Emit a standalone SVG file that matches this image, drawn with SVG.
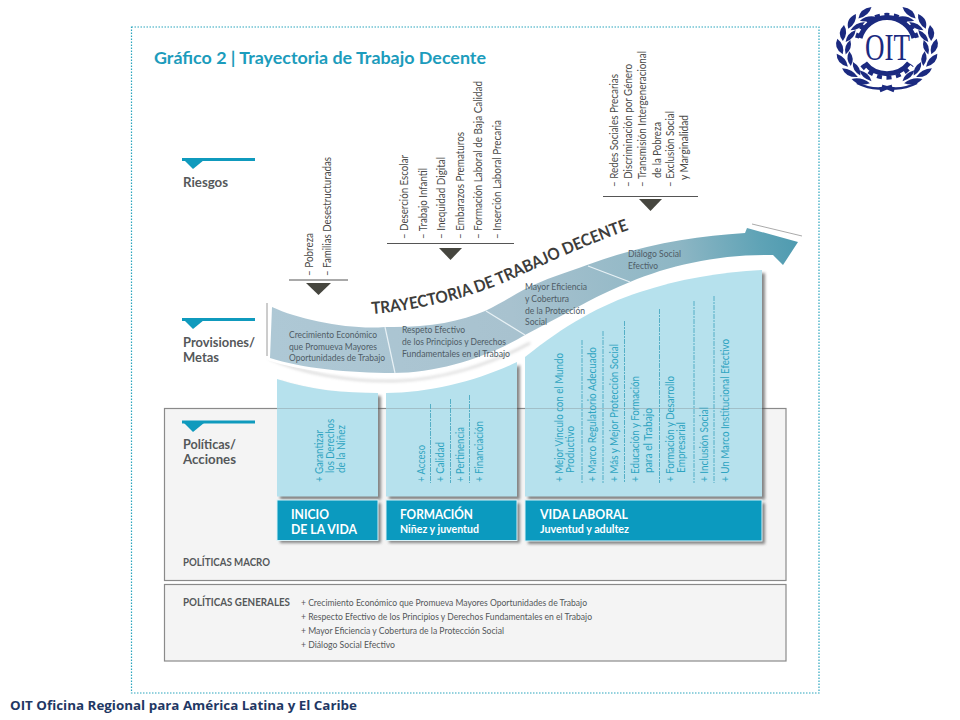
<svg xmlns="http://www.w3.org/2000/svg" width="960" height="720" viewBox="0 0 960 720">
<style>
text{font-family:Lato,"Open Sans","Liberation Sans",sans-serif}
.risk{font-size:12px;fill:#4a4a48}
.pol{font-size:12px;fill:#2ea4c1}
.band{font-size:9.500px;fill:#4f5c66}
.head{font-size:12.500px;font-weight:700;fill:#55585a}
.gen{font-size:10px;fill:#55585a}
.macro{font-size:10.500px;font-weight:700;fill:#55585a}
.big{font-size:13px;font-weight:700;fill:#fff}
.sub{font-size:10.500px;font-weight:700;fill:#fff}
.box{fill:#f4f4f4;stroke:#8a8a8a;stroke-width:1.2}
.panel{fill:#b6e1ed}
.dark{fill:#0b9abf;stroke:#d8f2f8;stroke-width:1}
.sh{fill:#555;opacity:.7;filter:url(#blur)}
.div{stroke:#4aa9c2;stroke-width:.9;stroke-dasharray:5 1 2 1;fill:none}
.bar{stroke:#0f9abd;stroke-width:3}
.tri{fill:#0f9abd}
.rule{stroke:#555;stroke-width:1}
.dt{fill:#46463f}
.sep{stroke:#e8f1f5;stroke-width:1.2;fill:none}
</style>
<defs>
<filter id="blur" x="-20%" y="-20%" width="140%" height="140%"><feGaussianBlur stdDeviation="1.5"/></filter>
<linearGradient id="rib" gradientUnits="userSpaceOnUse" x1="272" y1="330" x2="798" y2="245">
<stop offset="0" stop-color="#aec8d5"/><stop offset=".45" stop-color="#a8c2cf"/><stop offset=".78" stop-color="#8db6c4"/><stop offset=".93" stop-color="#5fa3b6"/><stop offset="1" stop-color="#4f9bb0"/>
</linearGradient>
<path id="arc" d="M372,314 C420,310 470,298 510,280 C550,262 590,243 634,228"/>
<g id="leaf" fill="#1b2a80"><path d="M843,57 Q833,50 837,39 Q845,46 843,57Z"/><path d="M846,57 Q853,50 850,40 Q843,47 846,57Z"/></g>
<g id="wreath" transform="translate(0,7.200) scale(1,.85)">
<use href="#leaf" transform="rotate(62 887 48)"/><use href="#leaf" transform="rotate(42 887 48)"/><use href="#leaf" transform="rotate(22 887 48)"/><use href="#leaf" transform="rotate(2 887 48)"/><use href="#leaf" transform="rotate(-18 887 48)"/><use href="#leaf" transform="rotate(-38 887 48)"/><use href="#leaf" transform="rotate(-56 887 48)"/>
</g>
<path id="p1" d="M277,379 C310,390 345,393 378,393 V496.500 H277Z"/>
<path id="p2" d="M386,393 C430,393 480,380 517,362 V496.500 H386Z"/>
<path id="p3" d="M525,357 C565,325 600,305 640,292 C680,279 720,272 762,270 V496.500 H525Z"/>
</defs>
<rect width="960" height="720" fill="#fff"/>
<rect x="131.500" y="27" width="687.500" height="666" fill="none" stroke="#2ba5bd" stroke-width="1.2" stroke-dasharray="1.500 1.500"/>
<g id="title"><text x="154" y="64" font-size="17" font-weight="700" fill="#1c9cbc" textLength="332" lengthAdjust="spacingAndGlyphs">Gráfico 2 | Trayectoria de Trabajo Decente</text></g>

<g id="box-macro"><rect class="box" x="164.500" y="408.500" width="621.500" height="172"/><text class="macro" x="183" y="566" textLength="87" lengthAdjust="spacingAndGlyphs">POLÍTICAS MACRO</text></g>
<g id="box-generales"><rect class="box" x="164.500" y="584.500" width="621.500" height="76.500"/>
<text class="macro" x="183" y="606" textLength="107" lengthAdjust="spacingAndGlyphs">POLÍTICAS GENERALES</text>
<text class="gen" x="301" y="606" textLength="286" lengthAdjust="spacingAndGlyphs">+ Crecimiento Económico que Promueva Mayores Oportunidades de Trabajo</text>
<text class="gen" x="301" y="620" textLength="291" lengthAdjust="spacingAndGlyphs">+ Respecto Efectivo de los Principios y Derechos Fundamentales en el Trabajo</text>
<text class="gen" x="301" y="634" textLength="203" lengthAdjust="spacingAndGlyphs">+ Mayor Eficiencia y Cobertura de la Protección Social</text>
<text class="gen" x="301" y="648" textLength="94" lengthAdjust="spacingAndGlyphs">+ Diálogo Social Efectivo</text></g>

<g id="legend-riesgos"><line class="bar" x1="182" y1="159.500" x2="255" y2="159.500"/><path class="tri" d="M184,160 H204 L193,169Z"/><text class="head" x="183" y="187" textLength="45" lengthAdjust="spacingAndGlyphs">Riesgos</text></g>
<g id="legend-provisiones"><line class="bar" x1="182" y1="319.500" x2="255" y2="319.500"/><path class="tri" d="M184,320 H204 L193,329Z"/><text class="head" x="183" y="347" textLength="72" lengthAdjust="spacingAndGlyphs">Provisiones/</text><text class="head" x="183" y="362" textLength="36" lengthAdjust="spacingAndGlyphs">Metas</text></g>
<g id="legend-politicas"><line class="bar" x1="182" y1="422" x2="255" y2="422"/><path class="tri" d="M184,423 H204 L193,432Z"/><text class="head" x="183" y="449" textLength="53" lengthAdjust="spacingAndGlyphs">Políticas/</text><text class="head" x="183" y="464" textLength="53" lengthAdjust="spacingAndGlyphs">Acciones</text></g>

<g id="riesgos-1">
<line class="rule" x1="289" y1="280" x2="348" y2="280"/><path class="dt" d="M306,283 H331 L318.500,295Z"/>
<text class="risk" transform="translate(313,276) rotate(-90)" textLength="43" lengthAdjust="spacingAndGlyphs">– Pobreza</text>
<text class="risk" transform="translate(331,276) rotate(-90)" textLength="119" lengthAdjust="spacingAndGlyphs">– Familias Desestructuradas</text>
</g>
<g id="riesgos-2">
<line class="rule" x1="387" y1="243.500" x2="514" y2="243.500"/><path class="dt" d="M439,248 H462 L450.500,260Z"/>
<text class="risk" transform="translate(408,239) rotate(-90)" textLength="84" lengthAdjust="spacingAndGlyphs">– Deserción Escolar</text>
<text class="risk" transform="translate(427,239) rotate(-90)" textLength="71" lengthAdjust="spacingAndGlyphs">– Trabajo Infantil</text>
<text class="risk" transform="translate(445,239) rotate(-90)" textLength="82" lengthAdjust="spacingAndGlyphs">– Inequidad Digital</text>
<text class="risk" transform="translate(464,239) rotate(-90)" textLength="107" lengthAdjust="spacingAndGlyphs">– Embarazos Prematuros</text>
<text class="risk" transform="translate(482,239) rotate(-90)" textLength="158" lengthAdjust="spacingAndGlyphs">– Formación Laboral de Baja Calidad</text>
<text class="risk" transform="translate(501,239) rotate(-90)" textLength="119" lengthAdjust="spacingAndGlyphs">– Inserción Laboral Precaria</text>
</g>
<g id="riesgos-3">
<line class="rule" x1="603" y1="196.500" x2="698" y2="196.500"/><path class="dt" d="M639,199 H662 L650.500,211Z"/>
<text class="risk" transform="translate(618,187) rotate(-90)" textLength="113" lengthAdjust="spacingAndGlyphs">– Redes Sociales Precarias</text>
<text class="risk" transform="translate(632,187) rotate(-90)" textLength="123" lengthAdjust="spacingAndGlyphs">– Discriminación por Género</text>
<text class="risk" transform="translate(646,187) rotate(-90)" textLength="136" lengthAdjust="spacingAndGlyphs">– Transmisión Intergeneracional</text>
<text class="risk" transform="translate(661,178) rotate(-90)" textLength="56" lengthAdjust="spacingAndGlyphs">de la Pobreza</text>
<text class="risk" transform="translate(674,187) rotate(-90)" textLength="76" lengthAdjust="spacingAndGlyphs">– Exclusión Social</text>
<text class="risk" transform="translate(688,180) rotate(-90)" textLength="65" lengthAdjust="spacingAndGlyphs">y Marginalidad</text>
</g>

<g id="etapa-inicio">
<use href="#p1" class="sh" transform="translate(3,3)"/><rect class="sh" x="280" y="503" width="101" height="40"/>
<use href="#p1" class="panel"/>
<line x1="277" y1="408.500" x2="378" y2="408.500" stroke="#8a9aa0" stroke-width=".8" opacity=".6"/>
<rect class="dark" x="277" y="500" width="101" height="40.500"/>
<text class="pol" transform="translate(323,482) rotate(-90)" textLength="52" lengthAdjust="spacingAndGlyphs">+ Garantizar</text>
<text class="pol" transform="translate(334,473) rotate(-90)" textLength="54" lengthAdjust="spacingAndGlyphs">los Derechos</text>
<text class="pol" transform="translate(345,473) rotate(-90)" textLength="48" lengthAdjust="spacingAndGlyphs">de la Niñez</text>
<text class="big" x="291" y="519" textLength="38" lengthAdjust="spacingAndGlyphs">INICIO</text>
<text class="big" x="291" y="534" textLength="66" lengthAdjust="spacingAndGlyphs">DE LA VIDA</text>
</g>
<g id="etapa-formacion">
<use href="#p2" class="sh" transform="translate(3,3)"/><rect class="sh" x="389" y="503" width="131" height="40"/>
<use href="#p2" class="panel"/>
<line x1="386" y1="408.500" x2="517" y2="408.500" stroke="#8a9aa0" stroke-width=".8" opacity=".6"/>
<rect class="dark" x="386" y="500" width="131" height="40.500"/>
<path class="div" d="M430.500,404V483M450.500,399V483M469.500,395V483"/>
<text class="pol" transform="translate(425,482) rotate(-90)" textLength="37" lengthAdjust="spacingAndGlyphs">+ Acceso</text>
<text class="pol" transform="translate(444,482) rotate(-90)" textLength="40" lengthAdjust="spacingAndGlyphs">+ Calidad</text>
<text class="pol" transform="translate(464,482) rotate(-90)" textLength="55" lengthAdjust="spacingAndGlyphs">+ Pertinencia</text>
<text class="pol" transform="translate(483,482) rotate(-90)" textLength="61" lengthAdjust="spacingAndGlyphs">+ Financiación</text>
<text class="big" x="400" y="519" textLength="73" lengthAdjust="spacingAndGlyphs">FORMACIÓN</text>
<text class="sub" x="400" y="533" textLength="79" lengthAdjust="spacingAndGlyphs">Niñez y juventud</text>
</g>
<g id="etapa-laboral">
<use href="#p3" class="sh" transform="translate(3,3)"/><rect class="sh" x="528" y="503" width="237" height="41"/>
<use href="#p3" class="panel"/>
<line x1="525" y1="408.500" x2="762" y2="408.500" stroke="#8a9aa0" stroke-width=".8" opacity=".6"/>
<rect class="dark" x="525" y="500" width="237" height="41"/>
<path class="div" d="M582,340V483M603,331V483M624.500,321V483M659.500,309V483M694,301V483M714,296V483"/>
<text class="pol" transform="translate(563,482) rotate(-90)" textLength="129" lengthAdjust="spacingAndGlyphs">+ Mejor Vínculo con el Mundo</text>
<text class="pol" transform="translate(574,473) rotate(-90)" textLength="47" lengthAdjust="spacingAndGlyphs">Productivo</text>
<text class="pol" transform="translate(596,482) rotate(-90)" textLength="135" lengthAdjust="spacingAndGlyphs">+ Marco Regulatorio Adecuado</text>
<text class="pol" transform="translate(618,482) rotate(-90)" textLength="138" lengthAdjust="spacingAndGlyphs">+ Más y Mejor Protección Social</text>
<text class="pol" transform="translate(639,482) rotate(-90)" textLength="106" lengthAdjust="spacingAndGlyphs">+ Educación y Formación</text>
<text class="pol" transform="translate(652,473) rotate(-90)" textLength="65" lengthAdjust="spacingAndGlyphs">para el Trabajo</text>
<text class="pol" transform="translate(674,482) rotate(-90)" textLength="106" lengthAdjust="spacingAndGlyphs">+ Formación y Desarrollo</text>
<text class="pol" transform="translate(685,473) rotate(-90)" textLength="51" lengthAdjust="spacingAndGlyphs">Empresarial</text>
<text class="pol" transform="translate(708,482) rotate(-90)" textLength="75" lengthAdjust="spacingAndGlyphs">+ Inclusión Social</text>
<text class="pol" transform="translate(729,482) rotate(-90)" textLength="143" lengthAdjust="spacingAndGlyphs">+ Un Marco Institucional Efectivo</text>
<text class="big" x="540" y="519" textLength="88" lengthAdjust="spacingAndGlyphs">VIDA LABORAL</text>
<text class="sub" x="540" y="533" textLength="89" lengthAdjust="spacingAndGlyphs">Juventud y adultez</text>
</g>

<g id="trayectoria">
<path d="M269,358 C300,373 350,382 395,381 C440,380 490,365 530,343" fill="none" stroke="#888" stroke-width="2" opacity=".35" filter="url(#blur)"/>
<path d="M272,307 C300,320 350,330 385,327 C425,328 460,322 485,311 C500,304 512,296 525,289 C545,279 565,273 587,265 C640,245 695,236 745,233 L747,228 L798,242 L783,265 L773,255 C720,254 670,265 630,282 C615,288 600,295 587,302 C565,314 545,324 525,335 C490,356 440,373 393,373 C350,373 300,368 270,358Z" fill="url(#rib)" stroke="#fff" stroke-width="6" stroke-linejoin="round" paint-order="stroke"/>
<path d="M267,303V356" stroke="#9a9a9a" stroke-width="1" fill="none"/>
<path d="M752,224 L802,236" stroke="#aaa" stroke-width="1" fill="none"/>
<path class="sep" d="M385,327 L395,373M486,311 L525,335M588,266 L630,282"/>
<text font-size="16.500" font-weight="700" fill="#3d3d3b" textLength="272" lengthAdjust="spacingAndGlyphs"><textPath href="#arc">TRAYECTORIA DE TRABAJO DECENTE</textPath></text>
<text class="band" x="289" y="338" textLength="88" lengthAdjust="spacingAndGlyphs">Crecimiento Económico</text>
<text class="band" x="289" y="349.600" textLength="88" lengthAdjust="spacingAndGlyphs">que Promueva Mayores</text>
<text class="band" x="289" y="361.200" textLength="96" lengthAdjust="spacingAndGlyphs">Oportunidades de Trabajo</text>
<text class="band" x="402" y="333" textLength="63" lengthAdjust="spacingAndGlyphs">Respeto Efectivo</text>
<text class="band" x="402" y="345" textLength="104" lengthAdjust="spacingAndGlyphs">de los Principios y Derechos</text>
<text class="band" x="402" y="357" textLength="108" lengthAdjust="spacingAndGlyphs">Fundamentales en el Trabajo</text>
<text class="band" x="525" y="290" textLength="62" lengthAdjust="spacingAndGlyphs">Mayor Eficiencia</text>
<text class="band" x="525" y="301.800" textLength="44" lengthAdjust="spacingAndGlyphs">y Cobertura</text>
<text class="band" x="525" y="313.600" textLength="60" lengthAdjust="spacingAndGlyphs">de la Protección</text>
<text class="band" x="525" y="325.400" textLength="22" lengthAdjust="spacingAndGlyphs">Social</text>
<text class="band" x="628" y="257" textLength="53" lengthAdjust="spacingAndGlyphs">Diálogo Social</text>
<text class="band" x="628" y="268.600" textLength="30" lengthAdjust="spacingAndGlyphs">Efectivo</text>
</g>

<g id="logo">
<use href="#wreath"/><use href="#wreath" transform="translate(1774,0) scale(-1,1)"/>
<path d="M857,83 Q875,92 892,86 L880,91M917,83 Q899,92 882,86 L894,91" fill="none" stroke="#1b2a80" stroke-width="2.500"/>
<path d="M860,38 A28,28 0 0 1 914,38M865,63 A28,28 0 0 0 909,63" fill="none" stroke="#1b2a80" stroke-width="5"/>
<path d="M857,38 A31,31 0 0 1 917,38M862,65 A31,31 0 0 0 912,65" fill="none" stroke="#1b2a80" stroke-width="4" stroke-dasharray="5 4.500"/>
<text x="865" y="60" font-size="38" textLength="45" lengthAdjust="spacingAndGlyphs" fill="#1b2a80" style="font-family:'Liberation Serif',serif">OIT</text>
</g>

<g id="footer"><text x="10" y="710" font-size="12.500" font-weight="700" fill="#1f3864" textLength="347" lengthAdjust="spacingAndGlyphs" style="font-family:'Open Sans',sans-serif">OIT Oficina Regional para América Latina y El Caribe</text></g>
<g id="connectors"/>
</svg>
